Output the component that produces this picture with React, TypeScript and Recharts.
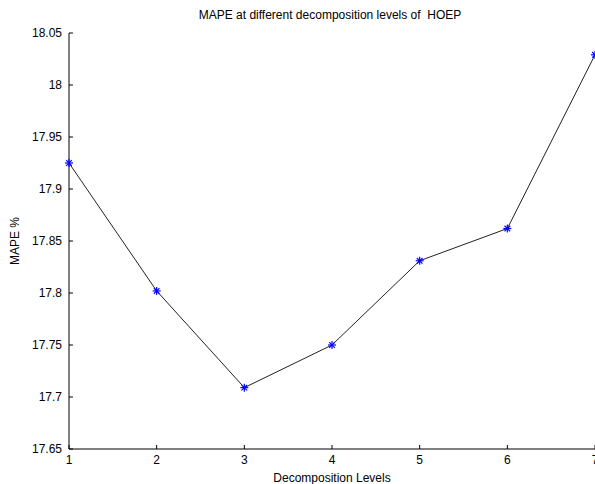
import React from 'react';
import { LineChart, Line, XAxis, YAxis } from 'recharts';

const levels = [1, 2, 3, 4, 5, 6, 7];
const mape = [17.925, 17.802, 17.709, 17.75, 17.831, 17.862, 18.029];
const yTicks = [17.65, 17.7, 17.75, 17.8, 17.85, 17.9, 17.95, 18, 18.05];
const xTicks = [1, 2, 3, 4, 5, 6, 7];

const data = levels.map((l, i) => ({ level: l, mape: mape[i] }));

const FONT = '"Liberation Sans", Arial, sans-serif';
const fmt = (v: number) => String(Number(v.toFixed(2)));

const Star = (props: any) => {
  const { cx, cy } = props;
  if (cx == null || cy == null) return null;
  const r = 4;
  const d = 2.8;
  return (
    <g stroke="#0000ff" strokeWidth={1.2}>
      <line x1={cx - r} y1={cy} x2={cx + r} y2={cy} />
      <line x1={cx} y1={cy - r} x2={cx} y2={cy + r} />
      <line x1={cx - d} y1={cy - d} x2={cx + d} y2={cy + d} />
      <line x1={cx - d} y1={cy + d} x2={cx + d} y2={cy - d} />
    </g>
  );
};

export default function App() {
  return (
    <div style={{ position: 'absolute', left: 0, top: 0, width: 595, height: 484, overflow: 'hidden', background: '#fff' }}>
      <LineChart
        width={600}
        height={484}
        data={data}
        margin={{ top: 33, right: 5, bottom: 0, left: 0 }}
        style={{ fontFamily: FONT }}
      >
        <XAxis
          xAxisId="b"
          dataKey="level"
          type="number"
          domain={[1, 7]}
          ticks={xTicks}
          height={35}
          tickSize={-4}
          tickMargin={10}
          stroke="#000"
          tick={{ fill: '#000', fontSize: 12, fontFamily: FONT }}
          axisLine={{ stroke: '#000' }}
          tickLine={{ stroke: '#000' }}
          label={{ value: 'Decomposition Levels', position: 'insideBottom', offset: 2, fill: '#000', fontSize: 12, fontFamily: FONT }}
        />
        <XAxis
          xAxisId="t"
          orientation="top"
          dataKey="level"
          type="number"
          domain={[1, 7]}
          ticks={xTicks}
          height={0}
          tickSize={-4}
          tickFormatter={() => ''}
          axisLine={{ stroke: '#000' }}
          tickLine={{ stroke: '#000' }}
        />
        <YAxis
          yAxisId="l"
          type="number"
          domain={[17.65, 18.05]}
          ticks={yTicks}
          width={69}
          tickSize={-4}
          tickMargin={11}
          tickFormatter={fmt}
          tick={{ fill: '#000', fontSize: 12, fontFamily: FONT }}
          axisLine={{ stroke: '#000' }}
          tickLine={{ stroke: '#000' }}
          allowDataOverflow
          label={{ value: 'MAPE %', angle: -90, position: 'insideLeft', offset: 15, fill: '#000', fontSize: 12, fontFamily: FONT, style: { textAnchor: 'middle' } }}
        />
        <YAxis
          yAxisId="r"
          orientation="right"
          type="number"
          domain={[17.65, 18.05]}
          ticks={yTicks}
          width={0}
          tickSize={-4}
          tickFormatter={() => ''}
          axisLine={{ stroke: '#000' }}
          tickLine={{ stroke: '#000' }}
        />
        <text x={330} y={19} textAnchor="middle" fontSize={12} fontFamily={FONT} fill="#000" style={{ whiteSpace: 'pre' }}>
          {'MAPE at different decomposition levels of  HOEP'}
        </text>
        <Line
          xAxisId="b"
          yAxisId="l"
          dataKey="mape"
          type="linear"
          stroke="#222"
          strokeWidth={1}
          dot={<Star />}
          activeDot={false}
          isAnimationActive={false}
        />
      </LineChart>
    </div>
  );
}
